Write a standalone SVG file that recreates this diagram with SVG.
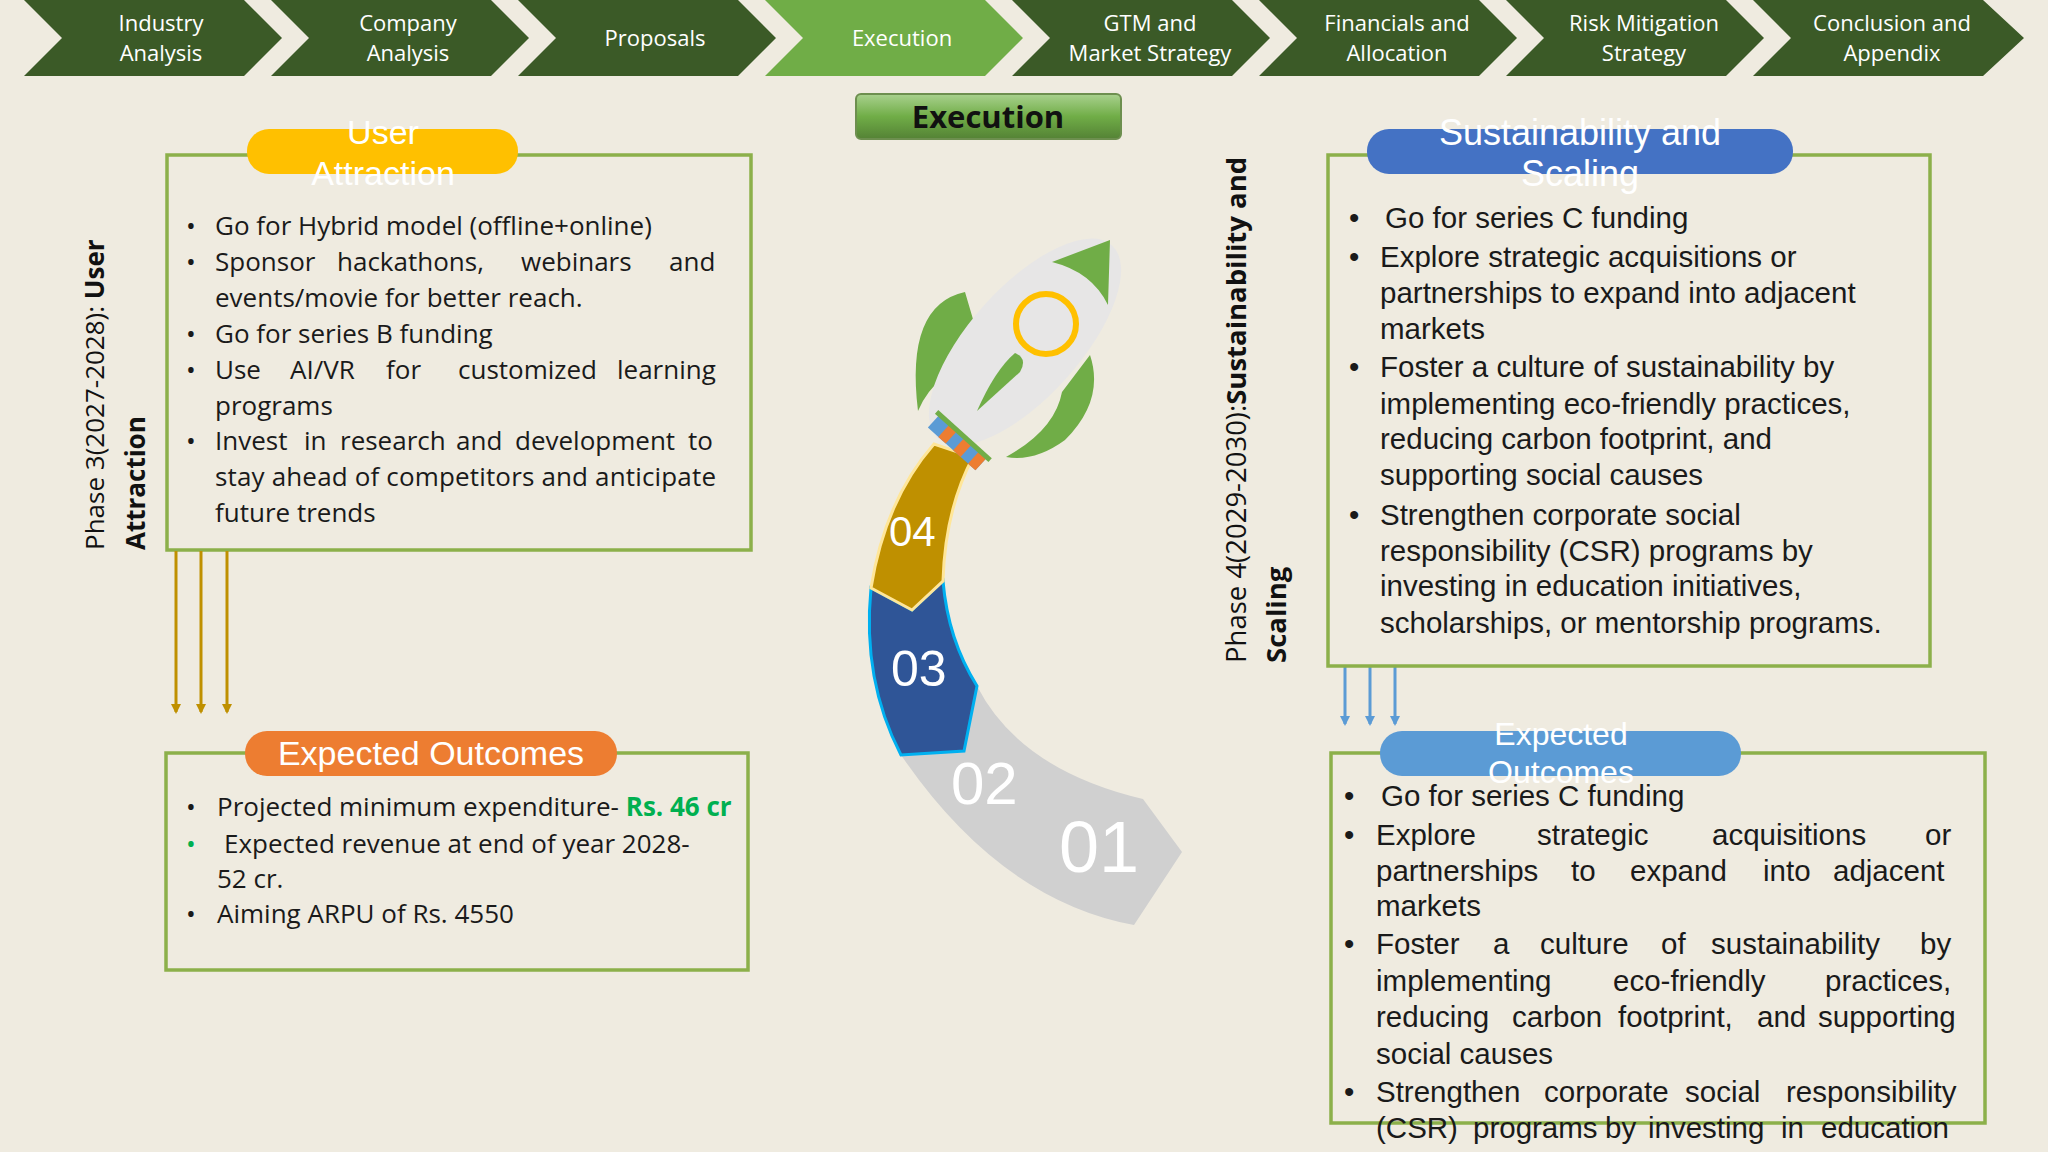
<svg xmlns="http://www.w3.org/2000/svg" width="2048" height="1152" viewBox="0 0 2048 1152">
<style>
.chev{fill:#3b5a27}
.chevA{fill:#70ad47}
.ct{font-family:"Open Sans",sans-serif;font-size:22px;fill:#fff;text-anchor:middle}
.bx{fill:none;stroke:#8cb04a;stroke-width:3.5}
.pt{font-family:"Liberation Sans",Arial,sans-serif;fill:#fff;text-anchor:middle}
.lt{font-family:"Open Sans",sans-serif;font-size:26px;fill:#1a1a1a}
.rt{font-family:"Liberation Sans",Arial,sans-serif;font-size:29.5px;fill:#1a1a1a}
.vt{font-family:"Open Sans",sans-serif;font-size:26px;fill:#111}
.vt2{font-family:"Open Sans",sans-serif;font-size:27.5px;fill:#111}
.num{font-family:"Liberation Sans",Arial,sans-serif;fill:#fff}
</style>
<defs>
<marker id="ag" markerWidth="10" markerHeight="10" refX="5" refY="8" markerUnits="userSpaceOnUse"><path d="M0,0 L10,0 L5,10 Z" fill="#bf9000"/></marker>
<marker id="ab" markerWidth="10" markerHeight="10" refX="5" refY="8" markerUnits="userSpaceOnUse"><path d="M0,0 L10,0 L5,10 Z" fill="#5b9bd5"/></marker>
<linearGradient id="eg" x1="0" y1="0" x2="0" y2="1"><stop offset="0" stop-color="#a9d18e"/><stop offset="0.5" stop-color="#70ad47"/><stop offset="1" stop-color="#548235"/></linearGradient>
</defs>
<rect width="2048" height="1152" fill="#efebe0"/>

<g id="chevrons">
<polygon class="chev" points="24,0 244,0 282,38 244,76 24,76 62,38"/>
<polygon class="chev" points="271,0 491,0 529,38 491,76 271,76 309,38"/>
<polygon class="chev" points="518,0 738,0 776,38 738,76 518,76 556,38"/>
<polygon class="chevA" points="765,0 985,0 1023,38 985,76 765,76 803,38"/>
<polygon class="chev" points="1012,0 1232,0 1270,38 1232,76 1012,76 1050,38"/>
<polygon class="chev" points="1259,0 1479,0 1517,38 1479,76 1259,76 1297,38"/>
<polygon class="chev" points="1506,0 1726,0 1764,38 1726,76 1506,76 1544,38"/>
<polygon class="chev" points="1753,0 1983,0 2024,38 1983,76 1753,76 1791,38"/>
<text class="ct" x="161" y="31">Industry</text><text class="ct" x="161" y="61">Analysis</text>
<text class="ct" x="408" y="31">Company</text><text class="ct" x="408" y="61">Analysis</text>
<text class="ct" x="655" y="46">Proposals</text>
<text class="ct" x="902" y="46">Execution</text>
<text class="ct" x="1150" y="31">GTM and</text><text class="ct" x="1150" y="61">Market Strategy</text>
<text class="ct" x="1397" y="31">Financials and</text><text class="ct" x="1397" y="61">Allocation</text>
<text class="ct" x="1644" y="31">Risk Mitigation</text><text class="ct" x="1644" y="61">Strategy</text>
<text class="ct" x="1892" y="31">Conclusion and</text><text class="ct" x="1892" y="61">Appendix</text>
</g>

<g id="title">
<rect x="856" y="94" width="265" height="45" rx="5" fill="url(#eg)" stroke="#6d8f4f" stroke-width="2"/>
<text x="988" y="128" text-anchor="middle" font-family="Open Sans,sans-serif" font-weight="bold" font-size="31" fill="#111">Execution</text>
</g>

<g id="phase3-label">
<text class="vt" transform="translate(104,550) rotate(-90)">Phase 3(2027-2028): <tspan font-weight="bold">User</tspan></text>
<text class="vt" font-weight="bold" transform="translate(145,550) rotate(-90)">Attraction</text>
</g>

<g id="user-attraction">
<rect class="bx" x="167" y="155" width="584" height="395"/>
<rect x="247" y="129" width="271" height="45" rx="22" fill="#ffc000"/>
<text class="pt" font-size="34" x="383" y="144">User</text>
<text class="pt" font-size="34" x="383" y="185">Attraction</text>
<g class="lt">
<text x="186" y="235">•</text><text x="215" y="235">Go for Hybrid model (offline+online)</text>
<text x="186" y="271">•</text><text y="271"><tspan x="215">Sponsor</tspan><tspan x="337">hackathons,</tspan><tspan x="521">webinars</tspan><tspan x="669">and</tspan></text>
<text x="215" y="307">events/movie for better reach.</text>
<text x="186" y="343">•</text><text x="215" y="343">Go for series B funding</text>
<text x="186" y="379">•</text><text y="379"><tspan x="215">Use</tspan><tspan x="290">AI/VR</tspan><tspan x="386">for</tspan><tspan x="458">customized</tspan><tspan x="617">learning</tspan></text>
<text x="215" y="415">programs</text>
<text x="186" y="450">•</text><text y="450"><tspan x="215">Invest</tspan><tspan x="304">in</tspan><tspan x="340">research</tspan><tspan x="456">and</tspan><tspan x="515">development</tspan><tspan x="688">to</tspan></text>
<text x="215" y="486" textLength="501" lengthAdjust="spacing">stay ahead of competitors and anticipate</text>
<text x="215" y="522">future trends</text>
</g>
</g>

<g id="connectors" stroke-width="3">
<line x1="176" y1="551" x2="176" y2="712" stroke="#bf9000" marker-end="url(#ag)"/>
<line x1="201" y1="551" x2="201" y2="712" stroke="#bf9000" marker-end="url(#ag)"/>
<line x1="227" y1="551" x2="227" y2="712" stroke="#bf9000" marker-end="url(#ag)"/>
<line x1="1345" y1="667" x2="1345" y2="724" stroke="#5b9bd5" marker-end="url(#ab)"/>
<line x1="1370" y1="667" x2="1370" y2="724" stroke="#5b9bd5" marker-end="url(#ab)"/>
<line x1="1395" y1="667" x2="1395" y2="724" stroke="#5b9bd5" marker-end="url(#ab)"/>
</g>

<g id="expected-left">
<rect class="bx" x="166" y="753" width="582" height="217"/>
<rect x="245" y="731" width="372" height="45" rx="22" fill="#ed7d31"/>
<text class="pt" font-size="34" x="431" y="765">Expected Outcomes</text>
<g class="lt">
<text x="186" y="816">•</text><text x="217" y="816">Projected minimum expenditure- <tspan fill="#00b050" font-weight="bold">Rs. 46 cr</tspan></text>
<text x="186" y="853" fill="#00b050">•</text><text x="224" y="853">Expected revenue at end of year 2028-</text>
<text x="217" y="888">52 cr.</text>
<text x="186" y="923">•</text><text x="217" y="923">Aiming ARPU of Rs. 4550</text>
</g>
</g>

<g id="rocket">
<path d="M901,755 Q1000,900 1134,925 L1182,852 L1143,799 Q1020,770 977,686 L964,751 Z" fill="#d0d0d0"/>
<path d="M871,588 Q862,680 901,755 L964,751 L977,686 Q948,640 943,581 L912,610 Z" fill="#2f5597" stroke="#00b0f0" stroke-width="3"/>
<path d="M871,588 Q885,500 934,444 L973,457 Q945,510 943,581 L912,610 Z" fill="#bf9000" stroke="#ffe699" stroke-width="3"/>
<path d="M965,292 Q905,305 918,411 Q935,370 985,360 Z" fill="#70ad47"/>
<path d="M1090,355 Q1105,400 1065,440 Q1035,462 1006,457 Q1055,430 1062,392 Z" fill="#70ad47"/>
<ellipse cx="1025" cy="342" rx="130" ry="55" transform="rotate(-48 1025 342)" fill="#e7e6e6"/>
<path d="M1052,262 L1110,240 L1108,305 Q1092,272 1052,262 Z" fill="#70ad47"/>
<path d="M977,411 Q995,370 1015,353 Q1028,358 1020,372 Z" fill="#70ad47"/>
<g transform="translate(957,443) rotate(42)">
<rect x="-32" y="-8" width="64" height="16" fill="#5b9bd5"/>
<rect x="-18" y="-8" width="10" height="16" fill="#ed7d31"/>
<rect x="2" y="-8" width="10" height="16" fill="#ed7d31"/>
<rect x="22" y="-8" width="10" height="16" fill="#ed7d31"/>
<rect x="-36" y="-12" width="72" height="5" fill="#70ad47"/>
</g>
<circle cx="1046" cy="324" r="30" fill="none" stroke="#ffc000" stroke-width="6"/>
<text class="num" font-size="42" x="889" y="546">04</text>
<text class="num" font-size="50" x="891" y="686">03</text>
<text class="num" font-size="60" x="951" y="804">02</text>
<text class="num" font-size="72" x="1059" y="872">01</text>
</g>

<g id="phase4-label">
<text class="vt2" transform="translate(1246,663) rotate(-90)">Phase 4(2029-2030):<tspan font-weight="bold">Sustainability and</tspan></text>
<text class="vt2" font-weight="bold" transform="translate(1286,663) rotate(-90)">Scaling</text>
</g>

<g id="sustainability">
<rect class="bx" x="1328" y="155" width="602" height="511"/>
<rect x="1367" y="129" width="426" height="45" rx="22" fill="#4472c4"/>
<text class="pt" font-size="36" x="1580" y="145">Sustainability and</text>
<text class="pt" font-size="36" x="1580" y="186">Scaling</text>
<g class="rt">
<text x="1349" y="228">•</text><text x="1385" y="228">Go for series C funding</text>
<text x="1349" y="267">•</text><text x="1380" y="267">Explore strategic acquisitions or</text>
<text x="1380" y="303">partnerships to expand into adjacent</text>
<text x="1380" y="339">markets</text>
<text x="1349" y="377">•</text><text x="1380" y="377">Foster a culture of sustainability by</text>
<text x="1380" y="414">implementing eco-friendly practices,</text>
<text x="1380" y="449">reducing carbon footprint, and</text>
<text x="1380" y="485">supporting social causes</text>
<text x="1349" y="525">•</text><text x="1380" y="525">Strengthen corporate social</text>
<text x="1380" y="561">responsibility (CSR) programs by</text>
<text x="1380" y="596">investing in education initiatives,</text>
<text x="1380" y="633">scholarships, or mentorship programs.</text>
</g>
</g>

<g id="expected-right">
<rect class="bx" x="1331" y="753" width="654" height="370"/>
<rect x="1380" y="731" width="361" height="45" rx="22" fill="#5b9bd5"/>
<text class="pt" font-size="32" x="1561" y="745">Expected</text>
<text class="pt" font-size="32" x="1561" y="783">Outcomes</text>
<g class="rt">
<text x="1344" y="806">•</text><text x="1381" y="806">Go for series C funding</text>
<text x="1344" y="845">•</text><text y="845"><tspan x="1376">Explore</tspan><tspan x="1537">strategic</tspan><tspan x="1712">acquisitions</tspan><tspan x="1925">or</tspan></text>
<text y="881"><tspan x="1376">partnerships</tspan><tspan x="1571">to</tspan><tspan x="1630">expand</tspan><tspan x="1763">into</tspan><tspan x="1833">adjacent</tspan></text>
<text x="1376" y="916">markets</text>
<text x="1344" y="954">•</text><text y="954"><tspan x="1376">Foster</tspan><tspan x="1493">a</tspan><tspan x="1540">culture</tspan><tspan x="1661">of</tspan><tspan x="1711">sustainability</tspan><tspan x="1920">by</tspan></text>
<text y="991"><tspan x="1376">implementing</tspan><tspan x="1613">eco-friendly</tspan><tspan x="1825">practices,</tspan></text>
<text y="1027"><tspan x="1376">reducing</tspan><tspan x="1512">carbon</tspan><tspan x="1618">footprint,</tspan><tspan x="1757">and</tspan><tspan x="1818">supporting</tspan></text>
<text x="1376" y="1064">social causes</text>
<text x="1344" y="1102">•</text><text y="1102"><tspan x="1376">Strengthen</tspan><tspan x="1544">corporate</tspan><tspan x="1685">social</tspan><tspan x="1786">responsibility</tspan></text>
<text y="1138"><tspan x="1376">(CSR)</tspan><tspan x="1473">programs</tspan><tspan x="1605">by</tspan><tspan x="1648">investing</tspan><tspan x="1781">in</tspan><tspan x="1821">education</tspan></text>
</g>
</g>
</svg>
